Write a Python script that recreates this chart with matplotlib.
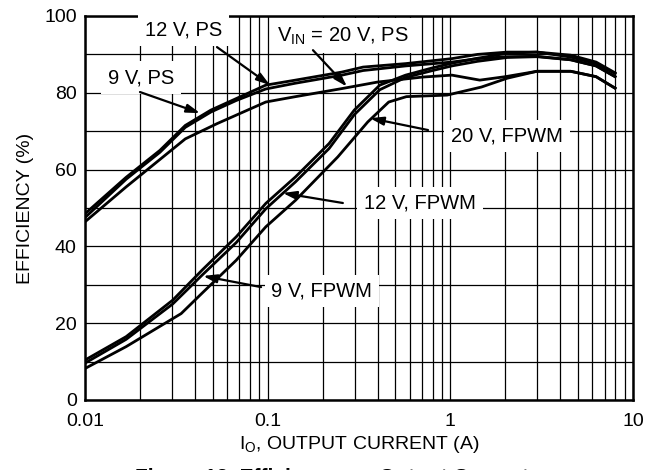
import matplotlib
matplotlib.use("Agg")
import matplotlib.pyplot as plt
from matplotlib.ticker import LogLocator, MultipleLocator, FixedFormatter, FixedLocator

plt.rcParams['font.family'] = ['Liberation Sans', 'DejaVu Sans']
plt.rcParams['mathtext.default'] = 'regular'

# ---- data ----
x_ps = [0.01, 0.0168, 0.0257, 0.0354, 0.0489, 0.0673, 0.0977, 0.142, 0.255, 0.333,
        0.569, 1.02, 1.41, 2.05, 2.98, 4.56, 6.28, 7.98]
ps12 = [48.5, 58, 65, 71.5, 75.5, 78.5, 82, 83.3, 85.4, 86.7,
        87.6, 88.9, 90.0, 90.6, 90.6, 89.3, 87.6, 85]
ps9 = [47.5, 57.5, 64.5, 71, 75, 78, 81, 82.5, 84.6, 85.8,
       87, 88, 88.9, 89.4, 89.5, 88.6, 87.0, 84.2]

x_ps20 = [0.01, 0.0168, 0.0354, 0.053, 0.0977, 0.142, 0.255, 0.4, 0.705, 1.02,
          1.45, 2.0, 2.98, 4.56, 6.28, 7.98]
ps20 = [46.4, 55.5, 68, 72, 77.6, 79, 81.1, 82.8, 84.1, 84.6,
        83.3, 84.2, 85.6, 85.6, 84.2, 81.2]

x_fp = [0.01, 0.0168, 0.0302, 0.0437, 0.0673, 0.0977, 0.142, 0.217, 0.298, 0.411,
        0.569, 0.8, 1.02, 1.41, 2.05, 2.98, 4.56, 6.28, 7.98]
fp9 = [10.4, 16.5, 26, 33.8, 42.5, 51.2, 58.1, 66.8, 75.5, 82,
       84.6, 86.5, 87.7, 89, 90.3, 90.6, 89.8, 88, 85.2]
fp12 = [9.6, 15.8, 25, 32.5, 41, 49.8, 56.8, 65.5, 74.3, 80.8,
        84, 85.8, 87, 88.2, 89.2, 89.4, 88.6, 87, 84.2]

x_fp20 = [0.01, 0.0168, 0.0336, 0.0437, 0.0673, 0.0977, 0.142, 0.242, 0.353, 0.46,
          0.575, 0.96, 1.48, 2.05, 2.98, 4.56, 6.28, 7.98]
fp20 = [8.2, 13.9, 22.5, 27.8, 36.4, 45.1, 52, 63.3, 72.4, 77.6,
        79, 79.4, 81.5, 83.8, 85.6, 85.6, 84.2, 81.2]

y_ticks = [0, 20, 40, 60, 80, 100]
x_ticks = [0.01, 0.1, 1, 10]
x_tick_labels = ["0.01", "0.1", "1", "10"]

# labels: (text, text position, arrow tail, arrow tip)
labels = [
    ("9 V, PS", (0.0203, 83.9), (0.0200, 80.2), (0.0427, 74.7)),
    ("12 V, PS", (0.0348, 96.4), (0.0528, 91.9), (0.103, 82.0)),
    (r"V$_{IN}$ = 20 V, PS", (0.258, 94.8), (0.177, 91.1), (0.272, 81.6)),
    ("20 V, FPWM", (2.04, 68.75), (0.755, 70.3), (0.363, 73.4)),
    ("12 V, FPWM", (0.683, 51.3), (0.258, 51.3), (0.121, 53.9)),
    ("9 V, FPWM", (0.198, 28.4), (0.092, 29.4), (0.0443, 32.3)),
]

fig = plt.figure(figsize=(6.63, 4.70), dpi=100)
ax = fig.add_axes([85/663, 1-400/470, (633-85)/663, (400-16)/470])

for xs, ys in [(x_ps, ps12), (x_ps, ps9), (x_ps20, ps20),
               (x_fp, fp9), (x_fp, fp12), (x_fp20, fp20)]:
    ax.plot(xs, ys, color='black', lw=2.0, zorder=3, solid_joinstyle='round')

ax.set_xscale('log')
ax.set_xlim(0.01, 10)
ax.set_ylim(0, 100)
ax.xaxis.set_major_locator(FixedLocator(x_ticks))
ax.xaxis.set_major_formatter(FixedFormatter(x_tick_labels))
ax.xaxis.set_minor_locator(LogLocator(base=10, subs=range(2, 10)))
ax.xaxis.set_minor_formatter(FixedFormatter([]))
ax.yaxis.set_major_locator(FixedLocator(y_ticks))
ax.yaxis.set_minor_locator(MultipleLocator(10))
ax.tick_params(which='both', length=0, labelsize=14)
ax.tick_params(axis='y', pad=6)
ax.tick_params(axis='x', pad=9)
ax.grid(which='both', color='black', lw=0.9, zorder=1)
ax.set_axisbelow(True)
for s in ax.spines.values():
    s.set_linewidth(1.8)

ax.set_ylabel("EFFICIENCY (%)", fontsize=14, labelpad=7)
ax.set_xlabel(r"I$_O$, OUTPUT CURRENT (A)", fontsize=14, labelpad=3)

for txt, pos, tail, tip in labels:
    ax.text(pos[0], pos[1], txt, fontsize=14.5, ha='center', va='center', zorder=5,
            bbox=dict(facecolor='white', edgecolor='none', pad=5))
    ax.annotate('', xy=tip, xytext=tail, zorder=6,
                arrowprops=dict(arrowstyle='-|>,head_length=0.8,head_width=0.25',
                                color='black', lw=1.6, shrinkA=0, shrinkB=0))

fig.text(0.5, 1 - 468/470, "Figure 13. Efficiency vs. Output Current",
         fontsize=15, fontweight='bold', ha='center', va='top')

fig.savefig("out.png", dpi=100)
